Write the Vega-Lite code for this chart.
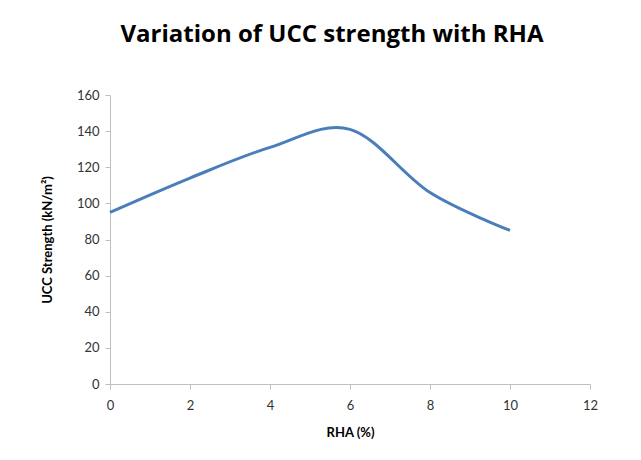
{
  "$schema": "https://vega.github.io/schema/vega-lite/v6.json",
  "width": 480,
  "height": 289,
  "autosize": {"type": "none"},
  "padding": {"left": 110, "top": 95, "right": 51, "bottom": 76},
  "background": "white",
  "config": {"view": {"stroke": null}},
  "title": {
    "text": "Variation of UCC strength with RHA",
    "font": "Open Sans",
    "fontSize": 24,
    "fontWeight": "bold",
    "color": "#000000",
    "anchor": "middle",
    "frame": "group",
    "dx": -18,
    "offset": 42
  },
  "data": {
    "values": [
      {"rha": 0, "ucc": 95},
      {"rha": 2, "ucc": 114},
      {"rha": 4, "ucc": 131},
      {"rha": 6, "ucc": 141},
      {"rha": 8, "ucc": 106},
      {"rha": 10, "ucc": 85}
    ]
  },
  "mark": {"type": "line", "interpolate": "cardinal", "color": "#4A7EBB", "strokeWidth": 3},
  "encoding": {
    "x": {
      "field": "rha",
      "type": "quantitative",
      "scale": {"domain": [0, 12], "nice": false},
      "axis": {
        "title": "RHA (%)",
        "values": [0, 2, 4, 6, 8, 10, 12],
        "grid": false,
        "labelFlush": false,
        "domainColor": "#BFBFBF",
        "tickColor": "#BFBFBF",
        "tickSize": 5,
        "labelFont": "Lato",
        "labelFontSize": 13,
        "labelColor": "#333333",
        "labelPadding": 10,
        "titleFont": "Lato",
        "titleFontSize": 13,
        "titleFontWeight": "bold",
        "titleColor": "#000000",
        "titlePadding": 14
      }
    },
    "y": {
      "field": "ucc",
      "type": "quantitative",
      "scale": {"domain": [0, 160], "nice": false},
      "axis": {
        "title": "UCC Strength (kN/m²)",
        "values": [0, 20, 40, 60, 80, 100, 120, 140, 160],
        "grid": false,
        "labelFlush": false,
        "domainColor": "#BFBFBF",
        "tickColor": "#BFBFBF",
        "tickSize": 5,
        "labelFont": "Lato",
        "labelFontSize": 13,
        "labelColor": "#333333",
        "labelPadding": 6,
        "titleFont": "Lato",
        "titleFontSize": 13,
        "titleFontWeight": "bold",
        "titleColor": "#000000",
        "titlePadding": 22
      }
    }
  }
}
